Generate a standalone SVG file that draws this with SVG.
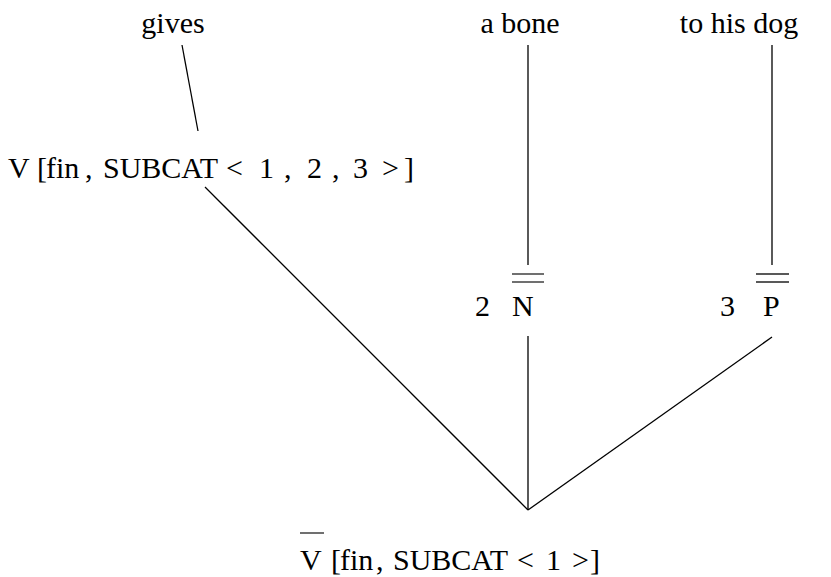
<svg xmlns="http://www.w3.org/2000/svg" width="831" height="577" viewBox="0 0 831 577">
<style>
text{font-family:'Liberation Serif','Times New Roman','DejaVu Serif',serif;font-size:30px;fill:#000}
.e{stroke:#000;stroke-width:1.3;fill:none}
.bar{stroke:#222;stroke-width:1.3}
</style>
<rect width="831" height="577" fill="#fff"/>
<g id="connectors">
<line class="e" x1="182" y1="45" x2="198" y2="131"/>
<line class="e" x1="528" y1="45" x2="528" y2="265"/>
<line class="e" x1="772" y1="45" x2="772" y2="265"/>
<line class="e" x1="205" y1="187" x2="528" y2="510"/>
<line class="e" x1="528" y1="336" x2="528" y2="510"/>
<line class="e" x1="772" y1="337" x2="528" y2="510"/>
</g>
<g id="gives"><text x="173" y="33" text-anchor="middle">gives</text></g>
<g id="abone"><text x="520" y="33" text-anchor="middle">a bone</text></g>
<g id="tohisdog"><text x="739" y="33" text-anchor="middle">to his dog</text></g>
<g id="V"><text y="178"><tspan x="8">V</tspan><tspan x="37">[</tspan><tspan x="46">fin</tspan><tspan x="85">,</tspan><tspan x="103">SUBCAT</tspan><tspan x="226">&lt;</tspan><tspan x="259">1</tspan><tspan x="284">,</tspan><tspan x="307">2</tspan><tspan x="332">,</tspan><tspan x="353">3</tspan><tspan x="382">&gt;</tspan><tspan x="404">]</tspan></text></g>
<g id="NP2"><line class="bar" x1="512" y1="274" x2="544" y2="274"/><line class="bar" x1="512" y1="282" x2="544" y2="282"/><text y="316"><tspan x="475">2</tspan><tspan x="512">N</tspan></text></g>
<g id="PP3"><line class="bar" x1="756" y1="274" x2="789" y2="274"/><line class="bar" x1="756" y1="282" x2="789" y2="282"/><text y="316"><tspan x="720">3</tspan><tspan x="763">P</tspan></text></g>
<g id="Vbar"><line class="bar" x1="300" y1="533" x2="324" y2="533"/><text y="570"><tspan x="300">V</tspan><tspan x="331">[</tspan><tspan x="340">fin</tspan><tspan x="376">,</tspan><tspan x="393">SUBCAT</tspan><tspan x="517">&lt;</tspan><tspan x="546">1</tspan><tspan x="572">&gt;</tspan><tspan x="590">]</tspan></text></g>
</svg>
